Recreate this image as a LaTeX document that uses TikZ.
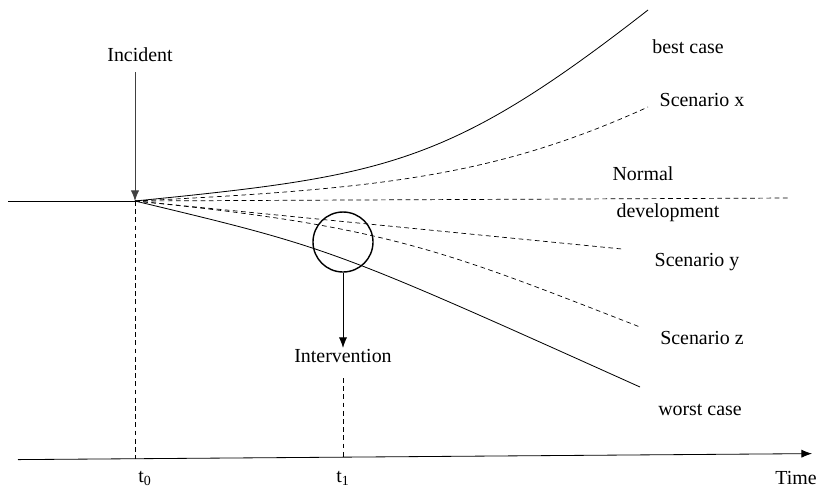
\documentclass[tikz,border=0pt]{standalone}
\usepackage{fontspec}
\setmainfont{Liberation Serif}
\usetikzlibrary{arrows.meta, positioning}
\tikzset{
  lbl/.style={font=\fontsize{17}{20}\selectfont, inner sep=1pt},
  scen/.style={dash pattern=on 4pt off 3pt, line width=0.6pt},
  path/.style={line width=0.7pt},
}

\begin{document}
\begin{tikzpicture}[x=0.03cm, y=-0.03cm, >={Latex[length=9pt,width=7pt]}]
        \useasboundingbox (0,0) rectangle (825,493);
        % incident and starting point
        \coordinate (t0p) at (135,201);
        \coordinate (west) at (8,201);
        \node[lbl] (incident) at (140,55) {Incident};
        \draw[path] (west) -- (t0p);
        \draw[path,black!75,->] (135,72) -- (t0p);
        % scenarios
        \coordinate (bestend) at (648,10);
        \coordinate (xend) at (648,107);
        \coordinate (normend) at (790,198);
        \coordinate (yend) at (622,249);
        \coordinate (zend) at (640,327);
        \coordinate (worstend) at (640,387);
        \draw[path] (t0p) .. controls (385,176) and (448,166) .. (bestend);
        \draw[scen] (t0p) .. controls (385,189) and (498,175) .. (xend);
        \draw[scen] (t0p) -- (normend);
        \draw[scen] (t0p) -- (yend);
        \draw[scen] (t0p) .. controls (385,226) and (440,249) .. (zend);
        \draw[path] (t0p) .. controls (331,248) and (331,248) .. (worstend);
        \node[lbl] (best) at (688,47) {best case};
        \node[lbl] (scx) at (702,100) {Scenario x};
        \node[lbl] (normal) at (643,174) {Normal};
        \node[lbl] (devel) at (668,213) {development};
        \node[lbl] (scy) at (697,262) {Scenario y};
        \node[lbl] (scz) at (702,338) {Scenario z};
        \node[lbl] (worst) at (700,410) {worst case};
        % intervention
        \node[draw, circle, line width=1.2pt, minimum size=60*0.03cm, inner sep=0pt] (circ) at (343,242) {};
        \node[lbl] (interv) at (343,356) {Intervention};
        \draw[path,->] (circ.south) -- (interv.north);
        % time axis
        \coordinate (axstart) at (18,459.6);
        \coordinate (axend) at (812,453.6);
        \draw[path,->] (axstart) -- (axend);
        \node[lbl] (time) at (796,478) {Time};
        \node[lbl] (tzero) at (145,478) {t\textsubscript{0}};
        \node[lbl] (tone) at (343,478) {t\textsubscript{1}};
        \draw[scen] (t0p) -- (135,459);
        \draw[scen] (343,378) -- (343,457);
      \end{tikzpicture}
\end{document}
